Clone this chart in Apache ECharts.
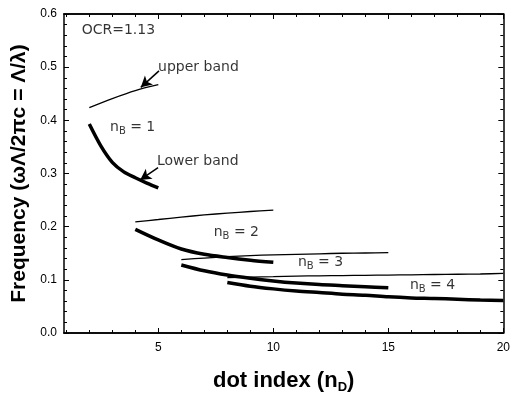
<!DOCTYPE html>
<html>
<head>
<meta charset="utf-8">
<script src="https://cdn.jsdelivr.net/npm/echarts@6/dist/echarts.min.js"></script>
<style>
  html, body { margin: 0; padding: 0; background: #fff; }
  #chart { width: 513px; height: 399px; }
</style>
</head>
<body>
<div id="chart"></div>
<script>
// band edges, x = dot index n_D
var upper1X = [2, 3, 4, 5];
var upper1Y = [0.424, 0.441, 0.456, 0.467];
var lower1X = [2, 2.5, 3, 3.5, 4, 4.5, 5];
var lower1Y = [0.393, 0.352, 0.321, 0.303, 0.292, 0.282, 0.273];

var upper2X = [4, 5, 6, 7, 8, 9, 10];
var upper2Y = [0.209, 0.2135, 0.218, 0.222, 0.2255, 0.2285, 0.231];
var lower2X = [4, 5, 6, 7, 8, 9, 10];
var lower2Y = [0.195, 0.175, 0.158, 0.148, 0.142, 0.137, 0.133];

var upper3X = [6, 7, 8, 9, 10, 11, 12, 13, 14, 15];
var upper3Y = [0.138, 0.141, 0.1435, 0.1455, 0.147, 0.148, 0.149, 0.150, 0.1505, 0.151];
var lower3X = [6, 7, 8, 9, 10, 11, 12, 13, 14, 15];
var lower3Y = [0.128, 0.117, 0.109, 0.103, 0.098, 0.094, 0.091, 0.089, 0.087, 0.085];

var upper4X = [8, 9, 10, 11, 12, 13, 14, 15, 16, 17, 18, 19, 20];
var upper4Y = [0.104, 0.105, 0.106, 0.107, 0.1075, 0.108, 0.1085, 0.109, 0.1095, 0.110, 0.1105, 0.111, 0.112];
var lower4X = [8, 9, 10, 11, 12, 13, 14, 15, 16, 17, 18, 19, 20];
var lower4Y = [0.095, 0.088, 0.083, 0.079, 0.076, 0.073, 0.071, 0.068, 0.066, 0.065, 0.0635, 0.062, 0.061];

var xMajor = [5, 10, 15, 20];
var xMinor = [1, 2, 3, 4, 6, 7, 8, 9, 11, 12, 13, 14, 16, 17, 18, 19];

// text notes: [x, y, text]
var notes = [
  [1.67, 0.570, 'OCR=1.13'],
  [4.99, 0.499, 'upper band'],
  [2.90, 0.386, 'n{sub|B} = 1'],
  [4.94, 0.322, 'Lower band'],
  [7.41, 0.189, 'n{sub|B} = 2'],
  [11.07, 0.132, 'n{sub|B} = 3'],
  [15.94, 0.089, 'n{sub|B} = 4']
];
// arrows: from -> to
var arrows = [
  [[5.03, 0.493], [4.24, 0.462]],
  [[4.99, 0.311], [4.21, 0.288]]
];

var font = 'Arial, "Liberation Sans", sans-serif';
var noteFont = '"DejaVu Sans", sans-serif';

function pairs(xs, ys) {
  var out = [];
  for (var i = 0; i < xs.length; i++) out.push([xs[i], ys[i]]);
  return out;
}

function band(data, thick) {
  return {
    type: 'line',
    data: data,
    smooth: 0.3,
    symbol: 'none',
    silent: true,
    lineStyle: { color: '#000', width: thick ? 3.5 : 1.3 }
  };
}

function xAxisDef(pos, ticks, len, labels) {
  return {
    type: 'value',
    position: pos,
    min: 0.9,
    max: 20,
    axisLine: { show: true, lineStyle: { color: '#000', width: 1.5 } },
    axisTick: { show: true, inside: true, length: len, customValues: ticks, lineStyle: { color: '#000', width: 1 } },
    axisLabel: labels ? { show: true, customValues: xMajor, color: '#000', fontSize: 12, fontFamily: font, margin: 9 } : { show: false },
    splitLine: { show: false }
  };
}

function yAxisDef(pos, labels) {
  return {
    type: 'value',
    position: pos,
    min: 0,
    max: 0.6,
    interval: 0.1,
    axisLine: { show: true, lineStyle: { color: '#000', width: 1.5 } },
    axisTick: { show: true, inside: true, length: 5, lineStyle: { color: '#000', width: 1 } },
    minorTick: { show: true, splitNumber: 5, length: 3, lineStyle: { color: '#000', width: 1 } },
    axisLabel: labels ? {
      show: true, color: '#000', fontSize: 12, fontFamily: font, margin: 7,
      formatter: function (v) { return v.toFixed(1); }
    } : { show: false },
    splitLine: { show: false }
  };
}

var xAxes = [
  xAxisDef('bottom', xMajor, 5, true),
  xAxisDef('bottom', xMinor, 3, false),
  xAxisDef('top', xMajor, 5, false),
  xAxisDef('top', xMinor, 3, false)
];
xAxes[0].name = 'dot index (n{sub|D})';
xAxes[0].nameLocation = 'middle';
xAxes[0].nameGap = 35;
xAxes[0].nameTextStyle = {
  color: '#000', fontSize: 22, fontWeight: 'bold', fontFamily: font,
  rich: { sub: { fontSize: 13, fontWeight: 'bold', fontFamily: font, color: '#000', padding: [13, 0, 0, 0] } }
};

var yAxes = [yAxisDef('left', true), yAxisDef('right', false)];
yAxes[0].name = 'Frequency (\u03c9\u039b/2\u03c0c = \u039b/\u03bb)';
yAxes[0].nameLocation = 'middle';
yAxes[0].nameGap = 33;
yAxes[0].nameTextStyle = { color: '#000', fontSize: 21, fontWeight: 'bold', fontFamily: font };

var series = [
  band(pairs(upper1X, upper1Y), false),
  band(pairs(lower1X, lower1Y), true),
  band(pairs(upper2X, upper2Y), false),
  band(pairs(lower2X, lower2Y), true),
  band(pairs(upper3X, upper3Y), false),
  band(pairs(lower3X, lower3Y), true),
  band(pairs(upper4X, upper4Y), false),
  band(pairs(lower4X, lower4Y), true)
];

series[0].markLine = {
  silent: true,
  symbol: ['none', 'arrow'],
  symbolSize: [9, 11],
  label: { show: false },
  lineStyle: { color: '#000', width: 1.5, type: 'solid' },
  data: arrows.map(function (a) { return [{ coord: a[0] }, { coord: a[1] }]; })
};

series.push({
  type: 'scatter',
  symbolSize: 0,
  silent: true,
  data: notes.map(function (n) {
    return {
      value: [n[0], n[1]],
      label: {
        show: true, position: 'right', distance: 0,
        formatter: n[2], color: '#000', fontSize: 14, fontFamily: noteFont,
        rich: { sub: { fontSize: 10, fontFamily: noteFont, color: '#000', padding: [8, 0, 0, 0] } }
      }
    };
  })
});

var myChart = echarts.init(document.getElementById('chart'));
myChart.setOption({
  animation: false,
  backgroundColor: '#fff',
  grid: { left: 64, right: 6, top: 14, bottom: 65 },
  xAxis: xAxes,
  yAxis: yAxes,
  series: series
});
</script>
</body>
</html>
